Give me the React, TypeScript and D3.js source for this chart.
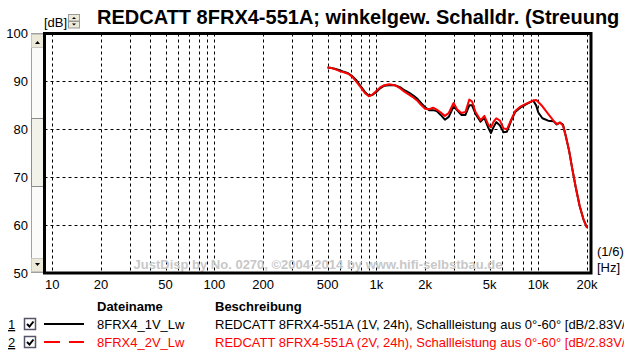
import React from 'react';
import * as d3 from 'd3';

// Frequency response data (Hz / dB)
const freqs = [
  500, 530, 560, 600, 630, 670, 710, 750, 800, 850, 900, 950, 1000, 1060, 1120, 1200,
  1300, 1400, 1500, 1600, 1700, 1800, 1900, 2000, 2120, 2240, 2360, 2500, 2650, 2800,
  3000, 3150, 3350, 3550, 3750, 3900, 4100, 4400, 4650, 4900, 5100, 5300, 5500, 5800,
  6100, 6400, 6800, 7200, 7800, 8500, 9300, 9700, 10000, 10600, 11500, 12400, 13000,
  13600, 14200, 14800, 15500, 16200, 17000, 18000, 19000, 20000,
];

const lw1V = [
  92.9, 92.8, 92.6, 92.3, 92.0, 91.7, 91.1, 90.3, 89.0, 87.8, 87.0, 87.2, 87.8, 88.6, 89.1, 89.2,
  89.2, 88.8, 88.1, 87.6, 87.0, 86.3, 85.4, 84.6, 84.0, 84.0, 83.8, 83.0, 82.0, 82.6,
  84.8, 84.0, 83.0, 83.0, 85.0, 85.0, 83.2, 81.6, 82.4, 80.4, 79.2, 80.5, 81.5, 80.8,
  79.4, 79.5, 81.8, 83.6, 84.6, 85.3, 86.0, 85.0, 83.5, 82.3, 81.8, 81.7, 81.0,
  81.4, 81.0, 78.5, 75.5, 71.8, 68.0, 64.0, 61.2, 59.4,
];

const lw2V = [
  92.9, 92.8, 92.5, 92.1, 91.9, 91.6, 91.0, 90.0, 88.8, 87.6, 86.9, 87.3, 88.0, 88.8, 89.2, 89.4,
  89.2, 88.6, 87.8, 87.2, 86.6, 85.9, 85.0, 84.3, 84.2, 84.5, 84.1, 83.5, 82.8, 83.4,
  85.5, 84.2, 83.4, 83.6, 86.2, 85.8, 83.6, 81.9, 82.8, 81.0, 80.4, 81.6, 82.3, 81.8,
  80.2, 80.0, 82.0, 83.8, 84.8, 85.4, 86.0, 86.1, 85.7, 84.8, 83.2, 81.8, 81.1,
  81.4, 80.8, 78.5, 75.5, 71.8, 68.0, 64.0, 61.2, 59.4,
];

const xTickLabels = ['10', '20', '50', '100', '200', '500', '1k', '2k', '5k', '10k', '20k'];
const xTickValues = [10, 20, 50, 100, 200, 500, 1000, 2000, 5000, 10000, 20000];
const yTickValues = [100, 90, 80, 70, 60, 50];

const series = [
  { idx: '1', name: '8FRX4_1V_Lw', desc: 'REDCATT 8FRX4-551A (1V, 24h), Schallleistung aus 0°-60° [dB/2.83V/', color: '#000000', values: lw1V, dash: null },
  { idx: '2', name: '8FRX4_2V_Lw', desc: 'REDCATT 8FRX4-551A (2V, 24h), Schallleistung aus 0°-60° [dB/2.83V/', color: '#ff0000', values: lw2V, dash: '16,9' },
];

const W = 624;
const H = 353;
const plot = { left: 44.5, top: 33.5, right: 591, bottom: 273 };
const font = 'Arial, "Liberation Sans", sans-serif';

const App = () => {
  const x = d3.scaleLog().domain([10, 10000]).range([52.3, 538.3]);
  const y = d3.scaleLinear().domain([50, 100]).range([plot.bottom, plot.top]);

  // grid frequencies: 1..9 per decade from 10 Hz to 20 kHz
  const gridF: number[] = [];
  [10, 100, 1000, 10000].forEach(d => {
    for (let m = 1; m <= 9; m++) {
      const f = d * m;
      if (f <= 20000) gridF.push(f);
    }
  });

  const line = d3.line<number>()
    .x((_, i) => x(freqs[i]))
    .y(d => y(d));

  return (
    <svg width={W} height={H} style={{ position: 'absolute', left: 0, top: 0, background: '#fff' }} fontFamily={font}>
      <rect x={0} y={0} width={W} height={H} fill="#fff" />

      {/* title (runs off the right edge, as in the original window) */}
      <text x={97} y={24} fontSize={20} fontWeight="bold" fill="#000">
        REDCATT 8FRX4-551A; winkelgew. Schalldr. (Streuung
      </text>

      {/* [dB] with spin buttons */}
      <text x={44} y={27} fontSize={13} fill="#000">[dB]</text>
      <g>
        <rect x={68.5} y={14.5} width={11} height={6.5} fill="#ece9d8" stroke="#9a9a9a" />
        <rect x={68.5} y={21.5} width={11} height={6.5} fill="#ece9d8" stroke="#9a9a9a" />
        <path d="M72,19 L74,17 L76,19 Z" fill="#000" />
        <path d="M72,23.5 L74,25.5 L76,23.5 Z" fill="#000" />
      </g>

      {/* left scrollbar */}
      <g>
        <rect x={31.5} y={33.5} width={12} height={239} fill="#fbfbf9" stroke="#a0a0a0" />
        <rect x={31.5} y={34.5} width={12} height={13} fill="#ece9d8" stroke="#c8c8c0" />
        <path d="M35,44 L37.5,41 L40,44 Z" fill="#000" />
        <rect x={31.5} y={258.5} width={12} height={13} fill="#ece9d8" stroke="#c8c8c0" />
        <path d="M35,263 L37.5,266 L40,263 Z" fill="#000" />
        <rect x={31.5} y={118.5} width={12} height={68} fill="#f2f1ea" stroke="#8c8c8c" />
      </g>

      {/* grid */}
      <g stroke="#000" strokeWidth={1} strokeDasharray="3,3">
        {gridF.map(f => (
          <line key={'v' + f} x1={Math.round(x(f)) + 0.5} x2={Math.round(x(f)) + 0.5} y1={plot.top} y2={plot.bottom} />
        ))}
        {[60, 70, 80, 90].map(v => (
          <line key={'h' + v} x1={plot.left} x2={plot.right} y1={Math.round(y(v)) + 0.5} y2={Math.round(y(v)) + 0.5} />
        ))}
      </g>

      {/* watermark */}
      <text x={318} y={269} fontSize={13} fontWeight="bold" fill="#c8c8c8" textAnchor="middle">
        JustDisp by No. 0270, ©2004-2014 by www.hifi-selbstbau.de
      </text>

      {/* curves */}
      {series.map(s => (
        <path key={s.idx} d={line(s.values) || ''} fill="none" stroke={s.color} strokeWidth={2} strokeLinejoin="round" />
      ))}

      {/* frame */}
      <rect x={plot.left} y={plot.top} width={plot.right - plot.left} height={plot.bottom - plot.top}
        fill="none" stroke="#000" strokeWidth={3} />

      {/* y labels */}
      {yTickValues.map(v => (
        <text key={'yl' + v} x={28} y={y(v)} dy="0.36em" fontSize={13} textAnchor="end" fill="#000">{v}</text>
      ))}

      {/* x labels */}
      {xTickValues.map((f, i) => (
        <text key={'xl' + f} x={x(f)} y={289} fontSize={13} textAnchor="middle" fill="#000">{xTickLabels[i]}</text>
      ))}

      <text x={597} y={256} fontSize={13} fill="#000">(1/6)</text>
      <text x={597} y={272} fontSize={13} fill="#000">[Hz]</text>

      {/* legend */}
      <text x={97} y={311} fontSize={13} fontWeight="bold" fill="#000">Dateiname</text>
      <text x={215} y={311} fontSize={13} fontWeight="bold" fill="#000">Beschreibung</text>
      {series.map((s, i) => {
        const cy = 324 + i * 18;
        return (
          <g key={'lg' + s.idx}>
            <text x={8} y={cy + 5} fontSize={13} fill="#000" textDecoration="underline">{s.idx}</text>
            <rect x={24.5} y={cy - 5.5} width={11} height={11} fill="#fff" stroke="#55556a" strokeWidth={1.5} />
            <path d={`M27,${cy} L29.5,${cy + 2.5} L33.5,${cy - 2.5}`} fill="none" stroke="#000" strokeWidth={2} />
            <line x1={44} x2={84} y1={cy} y2={cy} stroke={s.color} strokeWidth={2}
              strokeDasharray={s.dash || undefined} />
            <text x={97} y={cy + 5} fontSize={13} fill={s.color}>{s.name}</text>
            <text x={215} y={cy + 5} fontSize={13} fill={s.color}>{s.desc}</text>
          </g>
        );
      })}
    </svg>
  );
};

export default App;
